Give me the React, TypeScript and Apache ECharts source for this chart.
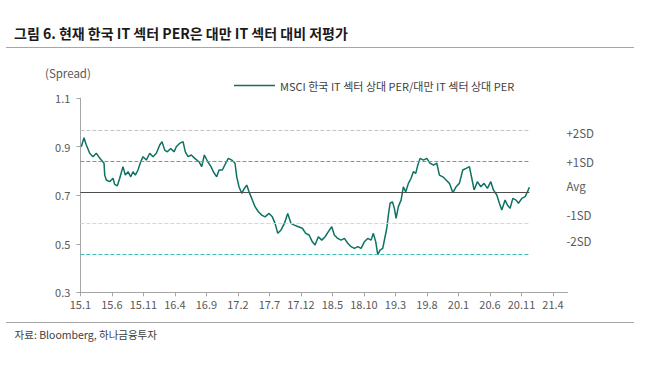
import React, { useEffect, useRef } from "react";
import * as echarts from "echarts";

const FONT = '"Noto Sans CJK KR", "Noto Sans", sans-serif';

const titleText = "그림 6. 현재 한국 IT 섹터 PER은 대만 IT 섹터 대비 저평가";
const sourceText = "자료: Bloomberg, 하나금융투자";
const unitText = "(Spread)";
const seriesName = "MSCI 한국 IT 섹터 상대 PER/대만 IT 섹터 상대 PER";

// x tick labels (yy.m), position = months since 2015-01
const xTickLabels = [
  "15.1", "15.6", "15.11", "16.4", "16.9", "17.2", "17.7", "17.12",
  "18.5", "18.10", "19.3", "19.8", "20.1", "20.6", "20.11", "21.4",
];
const yTicks = [0.3, 0.5, 0.7, 0.9, 1.1];

// months since Jan 2015
const months = [
  0.14, 0.57, 0.94, 1.48, 2.0, 2.52, 2.9, 3.32, 3.75, 3.86, 4.11, 4.65, 5.17, 5.44, 5.86, 6.24,
  6.76, 7.13, 7.56, 7.98, 8.35, 8.71, 9.14, 9.57, 9.94, 10.46, 11.0, 11.52, 12.05, 12.59, 12.95,
  13.38, 13.79, 14.33, 14.86, 15.22, 15.76, 16.29, 16.65, 17.08, 17.6, 18.14, 18.83, 19.25, 19.67,
  20.21, 20.73, 21.1, 21.63, 22.0, 22.52, 23.06, 23.48, 24.02, 24.54, 24.81, 25.17, 25.6, 26.02,
  26.4, 26.76, 27.19, 27.71, 28.24, 28.78, 29.3, 29.94, 30.46, 30.89, 31.32, 31.84, 32.37, 32.9,
  33.43, 33.95, 34.59, 35.22, 35.76, 36.29, 36.81, 37.24, 37.76, 38.3, 38.83, 39.35, 39.89, 40.3,
  40.84, 41.37, 41.89, 42.43, 42.95, 43.48, 44.02, 44.54, 45.06, 45.6, 46.13, 46.49, 46.87, 47.19,
  47.56, 47.98, 48.35, 48.62, 48.87, 49.14, 49.51, 49.83, 50.1, 50.46, 50.89, 51.25, 51.63, 52.05,
  52.48, 52.84, 53.22, 53.54, 53.9, 54.43, 54.97, 55.49, 56.02, 56.56, 56.97, 57.51, 58.03, 58.56,
  59.1, 59.62, 60.14, 60.68, 61.21, 61.73, 62.11, 62.48, 63.0, 63.54, 64.06, 64.59, 65.13, 65.54,
  66.08, 66.49, 66.87, 67.4, 67.76, 68.19, 68.62, 69.14, 69.51, 70.05, 70.57, 70.94, 71.25,
];
const spreadValues = [
  0.9, 0.937, 0.907, 0.873, 0.859, 0.873, 0.859, 0.845, 0.832, 0.783, 0.763, 0.756, 0.77, 0.745, 0.739, 0.77,
  0.818, 0.783, 0.797, 0.776, 0.797, 0.783, 0.804, 0.838, 0.859, 0.845, 0.873, 0.859, 0.873, 0.907, 0.921,
  0.886, 0.879, 0.893, 0.879, 0.9, 0.914, 0.921, 0.879, 0.859, 0.866, 0.852, 0.838, 0.818, 0.866,
  0.838, 0.818, 0.797, 0.776, 0.804, 0.804, 0.832, 0.852, 0.845, 0.832, 0.776, 0.735, 0.708, 0.728,
  0.742, 0.714, 0.687, 0.653, 0.632, 0.618, 0.611, 0.625, 0.611, 0.584, 0.543, 0.557, 0.584, 0.625,
  0.584, 0.577, 0.57, 0.564, 0.543, 0.536, 0.508, 0.495, 0.529, 0.515, 0.529, 0.55, 0.57, 0.536,
  0.522, 0.515, 0.522, 0.502, 0.488, 0.481, 0.488, 0.481, 0.508, 0.522, 0.515, 0.543, 0.508, 0.455,
  0.474, 0.481, 0.529, 0.564, 0.618, 0.667, 0.673, 0.646, 0.605, 0.653, 0.68, 0.735, 0.714, 0.749,
  0.77, 0.797, 0.79, 0.824, 0.852, 0.845, 0.852, 0.832, 0.824, 0.832, 0.783, 0.776, 0.763, 0.749,
  0.711, 0.735, 0.749, 0.804, 0.811, 0.818, 0.77, 0.722, 0.756, 0.735, 0.749, 0.728, 0.756, 0.722,
  0.701, 0.667, 0.639, 0.68, 0.66, 0.646, 0.687, 0.68, 0.667, 0.687, 0.694, 0.714, 0.733,
];

const bandNames = ["+2SD", "+1SD", "Avg", "-1SD", "-2SD"];
const bandValues = [0.969, 0.841, 0.713, 0.585, 0.457];
const bandColors = ["#c4c4c4", "#8f8f8f", "#4d4d4d", "#b3e6e1", "#3fbdb3"];
const bandTypes = ["dashed", "dashed", "solid", "dashed", "dashed"];
const bandLabelDy = [2.7, 0.7, -6, -8.3, -13];

const labelToMonth = (s: string) => {
  const [y, m] = s.split(".").map(Number);
  return (y - 15) * 12 + (m - 1);
};
const tickMonths = xTickLabels.map(labelToMonth);

export default function App() {
  const ref = useRef<HTMLDivElement>(null);
  useEffect(() => {
    if (!ref.current) return;
    const chart = echarts.init(ref.current, undefined, { renderer: "svg" });
    const lastMonth = months[months.length - 1];
    const data = months.map((m, i) => [m, spreadValues[i]]);
    const axisColor = "#a6a6a6";
    const labelColor = "#595959";
    const lineColor = "#0c7262";
    chart.setOption({
      animation: false,
      textStyle: { fontFamily: FONT },
      grid: { left: 80.4, right: 86.5, top: 98.2, bottom: 81.7, containLabel: false },
      legend: {
        data: [{ name: seriesName, icon: "rect", itemStyle: { color: lineColor } }],
        left: 229,
        top: 75,
        itemWidth: 41,
        itemHeight: 1.6,
        itemGap: 4,
        textStyle: { fontFamily: FONT, fontSize: 11, color: "#404040" },
      },
      xAxis: {
        type: "value",
        min: 0,
        max: 77.3,
        splitLine: { show: false },
        axisLine: { show: true, lineStyle: { color: axisColor, width: 1 } },
        axisTick: { show: true, length: 4, customValues: tickMonths, lineStyle: { color: axisColor } },
        axisLabel: {
          customValues: tickMonths,
          margin: 6,
          fontFamily: FONT,
          fontSize: 11,
          color: labelColor,
          formatter: (v: number) => {
            const i = tickMonths.findIndex((t) => Math.abs(t - v) < 1e-6);
            return i >= 0 ? xTickLabels[i] : "";
          },
        },
      },
      yAxis: {
        type: "value",
        min: yTicks[0],
        max: yTicks[yTicks.length - 1],
        interval: 0.2,
        splitLine: { show: false },
        axisLine: { show: true, lineStyle: { color: axisColor, width: 1 } },
        axisTick: { show: true, length: 4, lineStyle: { color: axisColor } },
        axisLabel: {
          margin: 10,
          fontFamily: FONT,
          fontSize: 11,
          color: labelColor,
          formatter: (v: number) => v.toFixed(1),
        },
      },
      series: [
        {
          name: "bands",
          type: "line",
          data: [],
          z: 1,
          silent: true,
          markLine: {
            silent: true,
            symbol: ["none", "none"],
            label: { show: false },
            animation: false,
            data: bandValues.map((v, i) => [
              {
                coord: [0, v],
                lineStyle: { color: bandColors[i], type: bandTypes[i], width: 1 },
              },
              { coord: [lastMonth, v] },
            ]),
          },
        },
        {
          name: seriesName,
          type: "line",
          data,
          z: 3,
          symbol: "none",
          showSymbol: false,
          lineStyle: { color: lineColor, width: 1.5 },
          itemStyle: { color: lineColor },
        },
      ],
      graphic: [
        {
          id: "title",
          type: "text",
          x: 14,
          y: 32.7,
          style: {
            text: titleText,
            font: `bold 14px ${FONT}`,
            fill: "#1a1a1a",
            verticalAlign: "middle",
            textVerticalAlign: "middle",
          },
        },
        {
          id: "rule1",
          type: "line",
          shape: { x1: 6, y1: 47.5, x2: 634, y2: 47.5 },
          style: { stroke: "#a6a6a6", lineWidth: 1 },
        },
        {
          id: "unit",
          type: "text",
          x: 45,
          y: 72.7,
          style: {
            text: unitText,
            font: `11.5px ${FONT}`,
            fill: labelColor,
            verticalAlign: "middle",
            textVerticalAlign: "middle",
          },
        },
        {
          id: "rule2",
          type: "line",
          shape: { x1: 6, y1: 322.5, x2: 634, y2: 322.5 },
          style: { stroke: "#a6a6a6", lineWidth: 1 },
        },
        {
          id: "source",
          type: "text",
          x: 14.6,
          y: 334.3,
          style: {
            text: sourceText,
            font: `10.5px ${FONT}`,
            fill: "#404040",
            verticalAlign: "middle",
            textVerticalAlign: "middle",
          },
        },
      ],
    });
    const endX = chart.convertToPixel({ xAxisIndex: 0 }, lastMonth) as number;
    chart.setOption({
      graphic: bandNames.map((name, i) => ({
        id: "band" + i,
        type: "text",
        x: endX + 37,
        y: (chart.convertToPixel({ yAxisIndex: 0 }, bandValues[i]) as number) + bandLabelDy[i],
        style: {
          text: name,
          font: `11.5px ${FONT}`,
          fill: labelColor,
          verticalAlign: "middle",
          textVerticalAlign: "middle",
        },
      })),
    });
    return () => chart.dispose();
  }, []);
  return (
    <div
      ref={ref}
      style={{ position: "fixed", left: 0, top: 0, width: 654, height: 374, background: "#fff" }}
    />
  );
}
